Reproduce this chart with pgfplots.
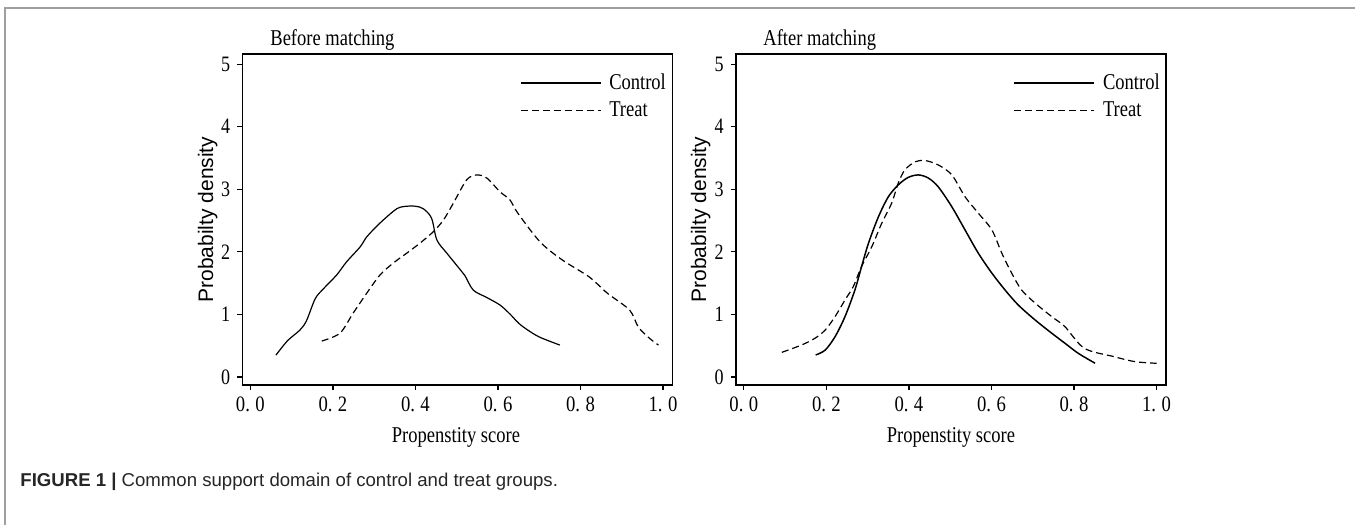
\documentclass[border=0pt]{standalone}
\usepackage{fontspec}
\setmainfont{Liberation Serif}
\newfontfamily\sansf{Liberation Sans}
\usepackage{graphicx}
\usepackage{pgfplots}
\pgfplotsset{compat=1.18}

% condensed serif, as in the reference
\newcommand{\cnd}[1]{\scalebox{0.82}[1]{#1}}
\newcommand{\tl}[2]{\scalebox{0.85}[1]{#1.\hspace{3.2pt}#2}}
\newcommand{\serifsize}{\fontsize{11.3}{13}\selectfont}

\pgfplotsset{
  panel/.style={
    scale only axis, width=215pt, height=165.5pt,
    xmin=-0.0196, xmax=1.0225, ymin=-0.128, ymax=5.163,
    xtick={0,0.2,0.4,0.6,0.8,1},
    xticklabels={\tl{0}{0},\tl{0}{2},\tl{0}{4},\tl{0}{6},\tl{0}{8},\tl{1}{0}},
    ytick={0,1,2,3,4,5}, yticklabels={\cnd{0},\cnd{1},\cnd{2},\cnd{3},\cnd{4},\cnd{5}},
    tick align=outside, tick pos=left, major tick length=2.5pt,
    axis line style={line width=0.8pt},
    every tick/.style={black, line width=0.6pt},
    tick label style={font=\fontsize{11}{13}\selectfont},
    legend style={draw=none, fill=none, at={(rel axis cs:0.645,0.948)},
      anchor=north west, inner sep=0pt, row sep=2.5pt,
      nodes={inner sep=1pt}, font=\serifsize},
    legend cell align=left,
    legend image code/.code={\draw[#1] (0pt,0pt) -- (40pt,0pt);},
  },
  ctrl/.style={black, line width=0.6pt, smooth, tension=0.5},
  trt/.style={black, line width=0.6pt, dash pattern=on 3.5pt off 2pt, smooth, tension=0.5},
}

\begin{document}
\begin{tikzpicture}
\useasboundingbox (0,0) rectangle (677.5pt,262.5pt);
\draw[gray!75, line width=1pt] (2.5pt,0pt) -- (2.5pt,258.5pt) -- (677.5pt,258.5pt);

% before matching
\begin{axis}[panel, at={(121.15pt,70pt)}, anchor=south west]
\addplot[ctrl] coordinates {(0.062,0.35) (0.09,0.58) (0.12,0.75) (0.136,0.90) (0.157,1.25) (0.177,1.41) (0.209,1.63) (0.233,1.84) (0.266,2.08) (0.282,2.24) (0.314,2.46) (0.355,2.69) (0.38,2.73) (0.40,2.73) (0.419,2.69) (0.439,2.54) (0.452,2.19) (0.476,1.98) (0.508,1.72) (0.52,1.62) (0.540,1.39) (0.573,1.27) (0.605,1.15) (0.63,1.00) (0.65,0.86) (0.67,0.76) (0.70,0.64) (0.75,0.51)};
\addlegendentry{\hspace{3pt}\cnd{Control}}
\addplot[trt] coordinates {(0.173,0.575) (0.217,0.70) (0.249,1.02) (0.282,1.34) (0.314,1.63) (0.346,1.82) (0.379,1.98) (0.411,2.14) (0.443,2.32) (0.468,2.51) (0.492,2.78) (0.524,3.15) (0.548,3.23) (0.573,3.18) (0.605,2.96) (0.629,2.83) (0.648,2.62) (0.702,2.16) (0.756,1.87) (0.821,1.60) (0.865,1.34) (0.919,1.07) (0.940,0.80) (0.967,0.62) (0.989,0.51)};
\addlegendentry{\hspace{3pt}\cnd{Treat}}
\end{axis}

% after matching
\begin{axis}[panel, at={(367.9pt,70pt)}, anchor=south west]
\addplot[ctrl, line width=0.75pt] coordinates {(0.174,0.352) (0.197,0.43) (0.221,0.645) (0.245,0.965) (0.269,1.39) (0.285,1.76) (0.302,2.14) (0.326,2.56) (0.350,2.88) (0.374,3.07) (0.398,3.19) (0.423,3.23) (0.447,3.18) (0.471,3.04) (0.504,2.72) (0.536,2.35) (0.568,1.98) (0.601,1.66) (0.633,1.39) (0.665,1.15) (0.706,0.91) (0.746,0.70) (0.778,0.54) (0.81,0.38) (0.851,0.22)};
\addlegendentry{\hspace{3pt}\cnd{Control}}
\addplot[trt] coordinates {(0.092,0.394) (0.140,0.512) (0.172,0.618) (0.197,0.751) (0.221,0.965) (0.245,1.231) (0.265,1.444) (0.285,1.764) (0.310,2.083) (0.334,2.457) (0.358,2.777) (0.374,3.097) (0.390,3.31) (0.415,3.44) (0.439,3.46) (0.471,3.39) (0.504,3.23) (0.536,2.88) (0.568,2.62) (0.601,2.35) (0.625,1.98) (0.649,1.66) (0.673,1.39) (0.706,1.18) (0.746,0.965) (0.778,0.805) (0.825,0.459) (0.897,0.325) (0.948,0.245) (1.0,0.219)};
\addlegendentry{\hspace{3pt}\cnd{Treat}}
\end{axis}

% titles and labels
\node[anchor=west, font=\serifsize, inner sep=0pt] at (135pt,242.5pt) {\cnd{Before matching}};
\node[anchor=west, font=\serifsize, inner sep=0pt] at (381.5pt,242.5pt) {\cnd{After matching}};
\node[font=\serifsize, inner sep=0pt] at (228pt,44pt) {\cnd{Propenstity score}};
\node[font=\serifsize, inner sep=0pt] at (475.5pt,44pt) {\cnd{Propenstity score}};
\node[rotate=90, font=\sansf\fontsize{10.5}{12}\selectfont, inner sep=0pt] at (103.8pt,152.7pt) {Probabilty density};
\node[rotate=90, font=\sansf\fontsize{10.5}{12}\selectfont, inner sep=0pt] at (350.3pt,152.7pt) {Probabilty density};
\node[anchor=west, font=\sansf\fontsize{9.3}{11}\selectfont, inner sep=0pt, text=black!85] at (10pt,21.5pt) {\textbf{FIGURE 1 |} Common support domain of control and treat groups.};
\end{tikzpicture}
\end{document}
